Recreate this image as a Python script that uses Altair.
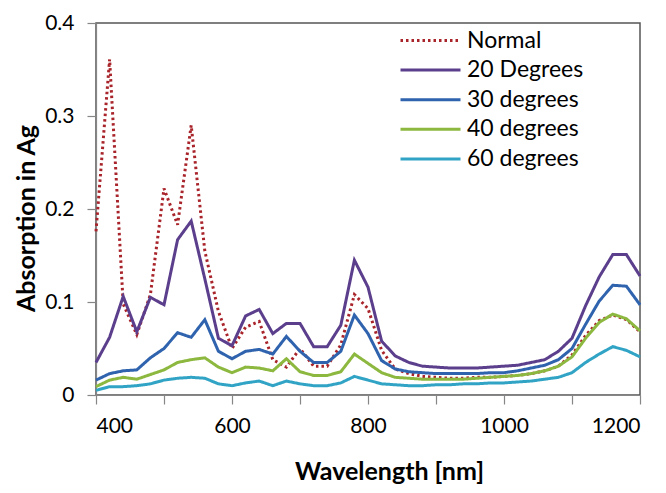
import altair as alt
import pandas as pd

wavelength = list(range(400, 1201, 20))

series_names = ["Normal", "20 Degrees", "30 degrees", "40 degrees", "60 degrees"]
series_colors = ["#a8242a", "#5b3e8c", "#2f63ae", "#8db83f", "#31a4c6"]

normal = [0.176, 0.361, 0.098, 0.065, 0.108, 0.222, 0.183, 0.290, 0.155, 0.090,
          0.050, 0.073, 0.079, 0.038, 0.030, 0.050, 0.031, 0.031, 0.054, 0.108,
          0.093, 0.048, 0.028, 0.023, 0.020, 0.019, 0.018, 0.018, 0.019, 0.019,
          0.020, 0.021, 0.023, 0.026, 0.031, 0.043, 0.064, 0.080, 0.086, 0.081,
          0.068]
deg20 = [0.035, 0.062, 0.106, 0.068, 0.105, 0.097, 0.167, 0.187, 0.125, 0.061,
         0.053, 0.085, 0.092, 0.066, 0.077, 0.077, 0.052, 0.052, 0.075, 0.145,
         0.116, 0.058, 0.042, 0.035, 0.031, 0.030, 0.029, 0.029, 0.029, 0.030,
         0.031, 0.032, 0.035, 0.038, 0.047, 0.061, 0.096, 0.127, 0.151, 0.151,
         0.128]
deg30 = [0.016, 0.023, 0.026, 0.027, 0.040, 0.050, 0.067, 0.062, 0.081, 0.047,
         0.039, 0.047, 0.049, 0.044, 0.063, 0.047, 0.035, 0.035, 0.047, 0.086,
         0.066, 0.037, 0.028, 0.025, 0.024, 0.023, 0.023, 0.023, 0.023, 0.024,
         0.024, 0.026, 0.029, 0.032, 0.038, 0.050, 0.076, 0.101, 0.118, 0.117,
         0.097]
deg40 = [0.009, 0.016, 0.019, 0.017, 0.022, 0.027, 0.035, 0.038, 0.040, 0.030,
         0.024, 0.030, 0.029, 0.026, 0.039, 0.025, 0.021, 0.021, 0.025, 0.044,
         0.034, 0.024, 0.019, 0.018, 0.017, 0.017, 0.017, 0.017, 0.018, 0.019,
         0.020, 0.021, 0.023, 0.026, 0.031, 0.041, 0.061, 0.078, 0.087, 0.082,
         0.069]
deg60 = [0.005, 0.009, 0.009, 0.010, 0.012, 0.016, 0.018, 0.019, 0.018, 0.012,
         0.010, 0.013, 0.015, 0.010, 0.015, 0.012, 0.010, 0.010, 0.013, 0.020,
         0.016, 0.012, 0.011, 0.010, 0.010, 0.011, 0.011, 0.012, 0.012, 0.013,
         0.013, 0.014, 0.015, 0.017, 0.019, 0.024, 0.035, 0.044, 0.052, 0.048,
         0.041]

x_ticks = list(range(400, 1201, 100))
y_ticks = [0, 0.1, 0.2, 0.3, 0.4]

rows = []
for name, vals in zip(series_names, [normal, deg20, deg30, deg40, deg60]):
    for w, v in zip(wavelength, vals):
        rows.append({"wavelength": w, "value": v, "series": name})
df = pd.DataFrame(rows)

FONT = "Lato"

legend = alt.Legend(
    title=None, orient="none", legendX=323, legendY=6,
    symbolType="M-3,0H3", symbolSize=400, symbolStrokeWidth=3,
    labelFont=FONT, labelFontSize=23, labelColor="#000000",
    labelOffset=25, rowPadding=5.6, padding=0,
)

chart = alt.Chart(df).mark_line(strokeWidth=3, strokeJoin="miter").encode(
    x=alt.X("wavelength:Q",
            scale=alt.Scale(domain=[400, 1200], nice=False, zero=False),
            axis=alt.Axis(values=x_ticks, format="d",
                          labelExpr="datum.value % 200 == 0 ? datum.label : ''",
                          title="Wavelength [nm]", titleX=293, titleY=76,
                          titleBaseline="middle", titleAlign="center",
                          tickSize=9, labelPadding=11, grid=False)),
    y=alt.Y("value:Q",
            scale=alt.Scale(domain=[0, 0.4], nice=False),
            axis=alt.Axis(values=y_ticks, format=".1~f",
                          title="Absorption in Ag", titleX=-70, titleY=195,
                          titleAngle=-90, titleBaseline="middle", titleAlign="center",
                          tickSize=9, labelPadding=13, grid=False)),
    color=alt.Color("series:N",
                    scale=alt.Scale(domain=series_names, range=series_colors),
                    sort=series_names, legend=legend),
    strokeDash=alt.StrokeDash("series:N",
                              scale=alt.Scale(domain=series_names,
                                              range=[[2.5, 3], [1, 0], [1, 0], [1, 0], [1, 0]]),
                              sort=series_names, legend=legend),
).properties(
    width=544, height=372,
    autosize=alt.AutoSizeParams(type="none"),
    padding={"left": 88, "top": 15, "right": 18, "bottom": 90},
).configure_view(
    stroke="#555555", strokeWidth=1.5
).configure_axis(
    labelFont=FONT, labelFontSize=21, labelColor="#000000",
    titleFont=FONT, titleFontSize=25, titleFontWeight="bold", titleColor="#000000",
    domainColor="#868686", tickColor="#868686", domainWidth=1.2, tickWidth=1.2,
)

chart.save("out.html", embed_options={"renderer": "svg", "actions": False})
